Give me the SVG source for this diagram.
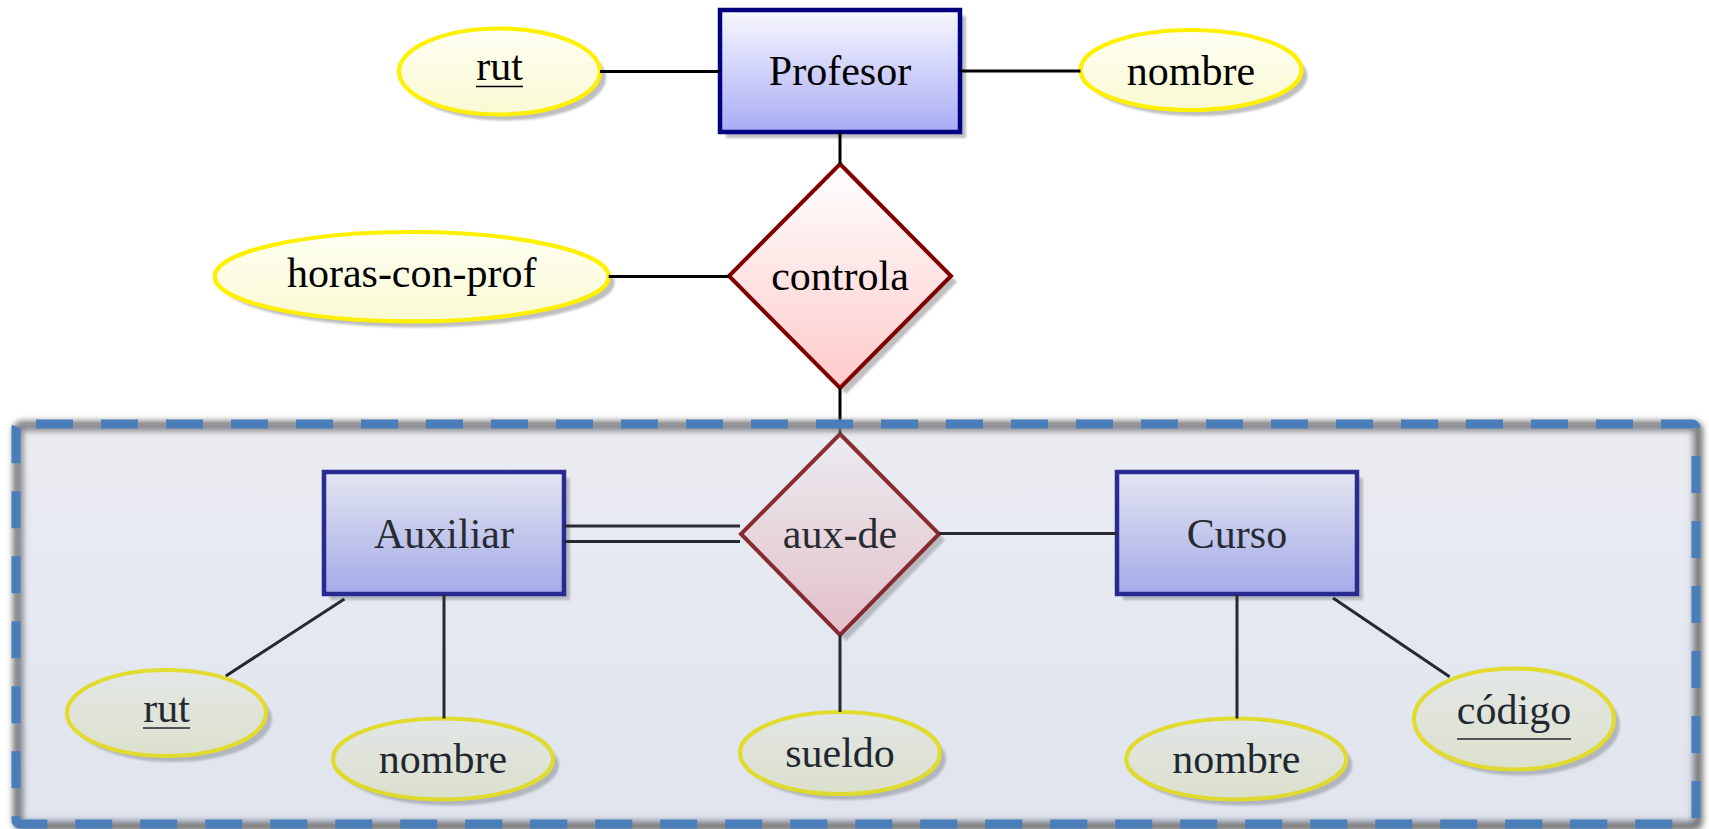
<svg xmlns="http://www.w3.org/2000/svg" xmlns:xlink="http://www.w3.org/1999/xlink" width="1709" height="829" viewBox="0 0 1709 829">
<defs>
<linearGradient id="gRect" x1="0" y1="0" x2="0" y2="1"><stop offset="0" stop-color="#f8f8ff"/><stop offset="1" stop-color="#a8acf5"/></linearGradient>
<linearGradient id="gEll" x1="0" y1="0" x2="0" y2="1"><stop offset="0" stop-color="#fffff4"/><stop offset="1" stop-color="#f9f9d2"/></linearGradient>
<linearGradient id="gDia" x1="0" y1="0" x2="0" y2="1"><stop offset="0" stop-color="#ffffff"/><stop offset="1" stop-color="#ffcaca"/></linearGradient>
<linearGradient id="gOver" x1="0" y1="0" x2="0" y2="1"><stop offset="0" stop-color="#abb3c7"/><stop offset="1" stop-color="#7f93bb"/></linearGradient>
<filter id="sh" x="-20%" y="-20%" width="140%" height="140%"><feGaussianBlur stdDeviation="1.2"/></filter>
<filter id="bsh" x="-5%" y="-10%" width="110%" height="120%"><feGaussianBlur stdDeviation="3"/></filter>
</defs>
<style>
.ent{fill:url(#gRect);stroke:#000080;stroke-width:4.5}
.att{fill:url(#gEll);stroke:#fff000;stroke-width:4.2}
.rel{fill:url(#gDia);stroke:#800000;stroke-width:4;stroke-linejoin:miter}
.shd{fill:#bfbfbf;filter:url(#sh)}
.lbl{font-family:"Liberation Serif","Times New Roman",serif;font-size:42px;fill:#000;text-anchor:middle}
.ul{stroke:#000;stroke-width:1.6}
.con{stroke:#000;stroke-width:3;fill:none}
</style>
<rect width="1709" height="829" fill="#ffffff"/>

<g id="Profesor">
<rect class="shd" x="726" y="16" width="240" height="122"/>
<rect class="ent" x="720" y="10" width="240" height="122"/>
<text class="lbl" x="840" y="85">Profesor</text>
</g>
<g id="rut-prof">
<ellipse class="shd" cx="505.5" cy="77.5" rx="100.5" ry="43"/>
<ellipse class="att" cx="499.5" cy="71.5" rx="100.5" ry="43"/>
<text class="lbl" x="499.5" y="80">rut</text>
<line class="ul" x1="476" y1="86.5" x2="523" y2="86.5"/>
</g>
<g id="nombre-prof">
<ellipse class="shd" cx="1197" cy="76" rx="110.5" ry="40"/>
<ellipse class="att" cx="1191" cy="70" rx="110.5" ry="40"/>
<text class="lbl" x="1191" y="85">nombre</text>
</g>
<g id="controla">
<polygon class="shd" points="846,170 957,282 846,394 735,282"/>
<polygon class="rel" points="840,164 951,276 840,388 729,276"/>
<text class="lbl" x="840" y="290">controla</text>
</g>
<g id="horas-con-prof">
<ellipse class="shd" cx="417.7" cy="282.7" rx="197" ry="44.7"/>
<ellipse class="att" cx="411.7" cy="276.7" rx="197" ry="44.7"/>
<text class="lbl" x="411.7" y="287">horas-con-prof</text>
</g>
<g id="Auxiliar">
<rect class="shd" x="330" y="478" width="240" height="122"/>
<rect class="ent" x="324" y="472" width="240" height="122"/>
<text class="lbl" x="444" y="548">Auxiliar</text>
</g>
<g id="aux-de">
<polygon class="shd" points="846,440 945,540 846,641 747,540"/>
<polygon class="rel" points="840,434 939,534 840,635 741,534"/>
<text class="lbl" x="840" y="548">aux-de</text>
</g>
<g id="Curso">
<rect class="shd" x="1123" y="478" width="240" height="122"/>
<rect class="ent" x="1117" y="472" width="240" height="122"/>
<text class="lbl" x="1237" y="548">Curso</text>
</g>
<g id="rut-aux">
<ellipse class="shd" cx="172.5" cy="719" rx="99.5" ry="43"/>
<ellipse class="att" cx="166.5" cy="713" rx="99.5" ry="43"/>
<text class="lbl" x="166.5" y="721.5">rut</text>
<line class="ul" x1="143" y1="728" x2="190" y2="728"/>
</g>
<g id="nombre-aux">
<ellipse class="shd" cx="449" cy="765" rx="110" ry="40.5"/>
<ellipse class="att" cx="443" cy="759" rx="110" ry="40.5"/>
<text class="lbl" x="443" y="773">nombre</text>
</g>
<g id="sueldo">
<ellipse class="shd" cx="846" cy="759" rx="100" ry="41"/>
<ellipse class="att" cx="840" cy="753" rx="100" ry="41"/>
<text class="lbl" x="840" y="767">sueldo</text>
</g>
<g id="nombre-curso">
<ellipse class="shd" cx="1242.3" cy="765" rx="110" ry="40.5"/>
<ellipse class="att" cx="1236.3" cy="759" rx="110" ry="40.5"/>
<text class="lbl" x="1236.3" y="773">nombre</text>
</g>
<g id="codigo">
<ellipse class="shd" cx="1520" cy="725" rx="100" ry="50.5"/>
<ellipse class="att" cx="1514" cy="719" rx="100" ry="50.5"/>
<text class="lbl" x="1514" y="724">código</text>
<line class="ul" x1="1457" y1="739" x2="1571" y2="739"/>
</g>

<g id="connectors">
<path class="con" d="M600 71.5 H720"/>
<path class="con" d="M960 71 H1080.5"/>
<path class="con" d="M840 132 V164"/>
<path class="con" d="M840 388 V434"/>
<path class="con" d="M608.7 276.5 H729"/>
<path class="con" d="M564 526 H740 M564 541.5 H740"/>
<path class="con" d="M939 533.5 H1117"/>
<path class="con" d="M840 635 V712"/>
<path class="con" d="M444 594 V718.5"/>
<path class="con" d="M344.4 599 L225.8 676"/>
<path class="con" d="M1237 594 V718.5"/>
<path class="con" d="M1333 598 L1449.6 676.7"/>
</g>

<g id="container">
<rect x="16" y="424" width="1680" height="400" rx="4" fill="none" stroke="#767676" stroke-width="10" filter="url(#bsh)" transform="translate(2,2)"/>
<rect x="16" y="424" width="1680" height="400" rx="4" fill="url(#gOver)" fill-opacity="0.25"/>
<rect x="16" y="424" width="1680" height="400" rx="4" fill="none" stroke="#4a7ebb" stroke-width="9" stroke-dasharray="37 28" stroke-dashoffset="49"/>
</g>
</svg>
